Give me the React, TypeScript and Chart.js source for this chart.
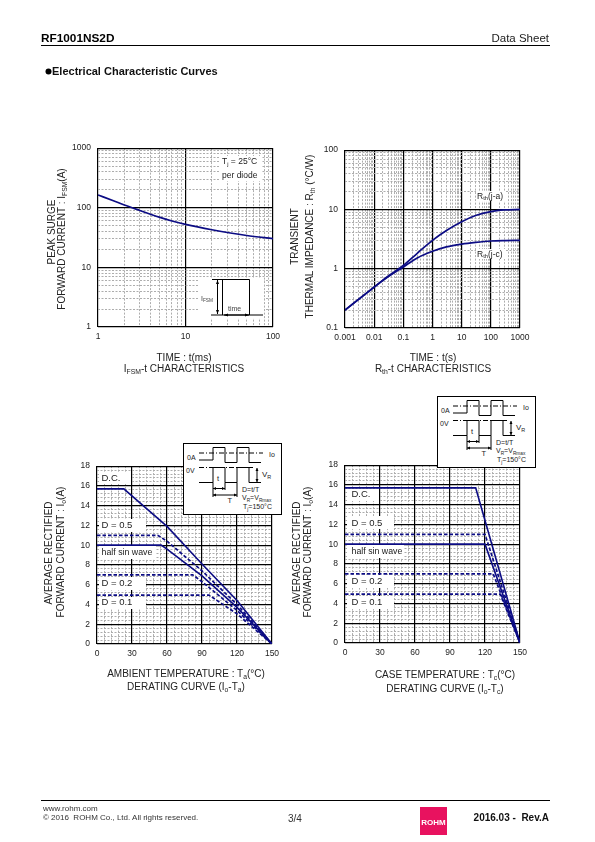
import React, { useEffect, useRef } from "react";
import { Chart, registerables } from "chart.js";

Chart.register(...registerables);

const FONT = "'Liberation Sans', Arial, sans-serif";
const NAVY = "#0c0c84";

// Chart 1: peak surge forward current vs. time
const surgeTime = [1, 1.5, 2, 3, 5, 7, 10, 20, 50, 100];
const surgeCurrent = [164, 131, 111, 90, 69.7, 60, 52.5, 42.7, 34.2, 30.4];

// Chart 2: transient thermal impedance
const rthTime = [0.001, 0.01, 0.03, 0.1, 0.3, 1, 3, 10, 30, 100, 300, 1000];
const rthJA = [0.2, 0.49, 0.75, 1.14, 1.82, 3.0, 4.4, 6.2, 7.9, 9.2, 9.8, 10];
const rthJC = [0.2, 0.49, 0.73, 1.07, 1.52, 1.97, 2.33, 2.6, 2.78, 2.93, 2.98, 3.0];

// Chart 3: derating vs. ambient temperature
const taDcX = [0, 23, 60, 90, 120, 150];
const taDcY = [15.7, 15.7, 11.9, 8.1, 4.4, 0];
const taD05X = [0, 52, 60, 90, 120, 150];
const taD05Y = [11, 11, 10.4, 7.4, 4.0, 0];
const taSinX = [0, 55, 60, 90, 120, 150];
const taSinY = [10, 10, 9.6, 6.9, 3.7, 0];
const taD02X = [0, 82, 90, 120, 150];
const taD02Y = [7, 7, 6.3, 3.4, 0];
const taD01X = [0, 96, 120, 150];
const taD01Y = [4.95, 4.95, 3.05, 0];

// Chart 4: derating vs. case temperature
const tcDcX = [0, 112, 150];
const tcDcY = [15.7, 15.7, 0];
const tcD05X = [0, 120, 150];
const tcD05Y = [11, 11, 0];
const tcSinX = [0, 120, 150];
const tcSinY = [10, 10, 0];
const tcD02X = [0, 127, 150];
const tcD02Y = [7, 7, 0];
const tcD01X = [0, 133, 150];
const tcD01Y = [4.95, 4.95, 0];

const pts = (xs: number[], ys: number[]) => xs.map((x, i) => ({ x, y: ys[i] }));

const decadeTicks = (minExp: number, maxExp: number) => {
  const out: number[] = [];
  for (let e = minExp; e < maxExp; e++)
    for (let m = 1; m < 10; m++) out.push(Number((m * Math.pow(10, e)).toPrecision(3)));
  out.push(Number(Math.pow(10, maxExp).toPrecision(3)));
  return out;
};
const isDecade = (v: number) => Math.abs(Math.log10(v) - Math.round(Math.log10(v))) < 1e-9;
const isMultiple = (step: number) => (v: number) => Math.abs(v / step - Math.round(v / step)) < 1e-6;

function gridOpts(major: (v: number) => boolean) {
  return {
    drawTicks: false,
    color: (c: any) => (major(c.tick.value) ? "#000" : "#adadad"),
    lineWidth: (c: any) => (major(c.tick.value) ? 1.2 : 1),
  };
}
function borderOpts(major: (v: number) => boolean) {
  return { display: false, dash: (c: any) => (major(c.tick.value) ? [] : [2, 1.5]) };
}
function tickOpts(major: (v: number) => boolean, padding: number) {
  return {
    autoSkip: false,
    maxRotation: 0,
    minRotation: 0,
    padding,
    color: "#222",
    font: { family: FONT, size: 8.5 },
    callback: (v: any) => (major(Number(v)) ? String(Number(v)) : ""),
  };
}
function logAxis(minExp: number, maxExp: number, horizontal: boolean) {
  const list = decadeTicks(minExp, maxExp);
  return {
    type: "logarithmic",
    min: Math.pow(10, minExp),
    max: Math.pow(10, maxExp),
    grid: gridOpts(isDecade),
    border: borderOpts(isDecade),
    ticks: tickOpts(isDecade, horizontal ? XPAD : YPAD),
    afterBuildTicks: (a: any) => {
      a.ticks = list.map((value) => ({ value }));
    },
    afterFit: fitAxis(horizontal),
  };
}
function linAxis(max: number, step: number, majorStep: number, horizontal: boolean) {
  const major = isMultiple(majorStep);
  return {
    type: "linear",
    min: 0,
    max,
    grid: gridOpts(major),
    border: borderOpts(major),
    ticks: { ...tickOpts(major, horizontal ? XPAD : YPAD), stepSize: step },
    afterFit: fitAxis(horizontal),
  };
}
const XPAD = 5;
const YPAD = 7;
const M = { left: 40, top: 10, right: 15, bottom: 22 };
const fitAxis = (horizontal: boolean) => (a: any) => {
  if (horizontal) a.height = M.bottom;
  else a.width = M.left;
};

const solid = (data: any[], width = 1.6) => ({
  data,
  borderColor: NAVY,
  borderWidth: width,
  pointRadius: 0,
  showLine: true,
  borderCapStyle: "butt",
});
const smooth = (data: any[]) => ({ ...solid(data, 1.7), cubicInterpolationMode: "monotone" });
const dashed = (data: any[]) => ({ ...solid(data, 1.7), borderDash: [3.5, 2] });

type Rect = { l: number; t: number; r: number; b: number };

function Plot({ rect, datasets, x, y }: { rect: Rect; datasets: any[]; x: any; y: any }) {
  const ref = useRef<HTMLCanvasElement>(null);
  useEffect(() => {
    const chart = new Chart(ref.current as HTMLCanvasElement, {
      type: "scatter",
      data: { datasets },
      options: {
        animation: false,
        responsive: false,
        maintainAspectRatio: false,
        devicePixelRatio: 1,
        layout: { padding: { left: 0, top: M.top, right: M.right, bottom: 0 } },
        plugins: { legend: { display: false }, tooltip: { enabled: false }, title: { display: false } },
        scales: { x, y },
      } as any,
    } as any);
    return () => chart.destroy();
  }, []);
  const w = rect.r - rect.l + M.left + M.right;
  const h = rect.b - rect.t + M.top + M.bottom;
  return (
    <canvas
      ref={ref}
      width={w}
      height={h}
      style={{ position: "absolute", left: rect.l - M.left, top: rect.t - M.top, width: w, height: h }}
    />
  );
}

// Text helper: strings are normal runs, one-item arrays are subscripts.
type Run = string | [string];
function Txt({
  x, y, runs, size = 10, anchor = "start", bold = false, rot = false, fill = "#222",
}: { x: number; y: number; runs: Run[]; size?: number; anchor?: string; bold?: boolean; rot?: boolean; fill?: string }) {
  const drop = size * 0.22;
  const nodes: any[] = [];
  let shift = 0;
  runs.forEach((r, i) => {
    if (typeof r === "string") {
      nodes.push(<tspan key={i} dy={-shift}>{r}</tspan>);
      shift = 0;
    } else {
      nodes.push(<tspan key={i} dy={drop - shift} fontSize={size * 0.68}>{r[0]}</tspan>);
      shift = drop;
    }
  });
  return (
    <text
      x={x}
      y={y}
      fontSize={size}
      fontFamily={FONT}
      fontWeight={bold ? "bold" : "normal"}
      textAnchor={anchor as any}
      fill={fill}
      transform={rot ? `rotate(-90 ${x} ${y})` : undefined}
      style={{ whiteSpace: "pre" }}
    >
      {nodes}
    </text>
  );
}

const W = ({ x, y, w, h }: { x: number; y: number; w: number; h: number }) => (
  <rect x={x} y={y} width={w} height={h} fill="#fff" />
);

function DutyInset({ dx, dy }: { dx: number; dy: number }) {
  const s = { stroke: "#000", strokeWidth: 1, fill: "none" };
  return (
    <g transform={`translate(${dx} ${dy})`}>
      <rect x={0.5} y={0.5} width={98} height={71} fill="#fff" stroke="#000" strokeWidth={1} />
      <path d="M16 10H80" {...s} strokeDasharray="5 2 1 2" />
      <path d="M16 24.5H70" {...s} strokeDasharray="5 2 1 2" />
      <path d="M16 17H30V4.5H42V19.5H54V4.5H66V19.5H78" {...s} />
      <path d="M16 39.5H30V24.5H42V39.5H54V24.5H66V39.5H78" {...s} />
      <path d="M30 39.5V54M42 39.5V47M54 39.5V54" {...s} />
      <path d="M30 45.5H42M30 52H54M74 25V39" {...s} />
      <path d="M30 45.5l3 -1.5v3zM42 45.5l-3 -1.5v3zM30 52l3 -1.5v3zM54 52l-3 -1.5v3zM74 25l-1.5 3h3zM74 39l-1.5 -3h3z" fill="#000" />
      <Txt x={4} y={17.3} size={7} runs={["0A"]} />
      <Txt x={3} y={30} size={7} runs={["0V"]} />
      <Txt x={86} y={13.7} size={7} runs={["Io"]} />
      <Txt x={79} y={34} size={8} runs={["V", ["R"]]} />
      <Txt x={34} y={38} size={7.5} runs={["t"]} />
      <Txt x={44.5} y={60} size={7.5} runs={["T"]} />
      <Txt x={59} y={48.7} size={7} runs={["D=t/T"]} />
      <Txt x={59} y={57} size={7} runs={["V", ["R"], "=V", ["Rmax"]]} />
      <Txt x={60} y={66} size={7} runs={["T", ["j"], "=150°C"]} />
    </g>
  );
}

function Overlay() {
  const s = { stroke: "#000", strokeWidth: 1, fill: "none" };
  return (
    <svg
      width={595}
      height={842}
      style={{ position: "absolute", left: 0, top: 0, pointerEvents: "none" }}
    >
      {/* page header */}
      <Txt x={41} y={42} size={11.8} bold fill="#000" runs={["RF1001NS2D"]} />
      <Txt x={549} y={42} size={11.5} anchor="end" runs={["Data Sheet"]} />
      <path d="M41 45.5H550" stroke="#000" strokeWidth={1} />
      <circle cx={48.5} cy={71.5} r={3} fill="#000" />
      <Txt x={52} y={75} size={11} bold fill="#111" runs={["Electrical Characteristic Curves"]} />

      {/* chart 1 */}
      <W x={220} y={156} w={42} h={25} />
      <Txt x={222} y={164} size={8.5} runs={["T", ["j"], " = 25°C"]} />
      <Txt x={222} y={178} size={8.5} runs={["per diode"]} />
      <W x={199} y={278} w={65} h={40} />
      <path d="M212 279.5H249.5V315M222.5 279.5V315M211 315H263" {...s} />
      <path d="M217.5 280V314" {...s} />
      <path d="M217.5 280l-1.5 4h3zM217.5 314l-1.5 -4h3zM224 315l4 -1.5v3zM249 315l-4 -1.5v3z" fill="#000" />
      <path d="M224 315H249" {...s} />
      <Txt x={201} y={300.5} size={7} fill="#444" runs={["I", ["FSM"]]} />
      <Txt x={228} y={311} size={7} fill="#444" runs={["time"]} />
      <Txt x={54.5} y={232} size={10} anchor="middle" rot runs={["PEAK SURGE"]} />
      <Txt x={65} y={239} size={10} anchor="middle" rot runs={["FORWARD CURRENT : I", ["FSM"], "(A)"]} />
      <Txt x={184} y={361} size={10} anchor="middle" runs={["TIME : t(ms)"]} />
      <Txt x={184} y={371.5} size={10} anchor="middle" runs={["I", ["FSM"], "-t CHARACTERISTICS"]} />

      {/* chart 2 */}
      <W x={476} y={191} w={30} h={10} />
      <W x={476} y={249} w={30} h={10} />
      <Txt x={477} y={198.5} size={8.5} runs={["R", ["th"], "(j-a)"]} />
      <Txt x={477} y={256.5} size={8.5} runs={["R", ["th"], "(j-c)"]} />
      <Txt x={298} y={236.5} size={10} anchor="middle" rot runs={["TRANSIENT"]} />
      <Txt x={313} y={236.5} size={10} anchor="middle" rot runs={["THERMAL IMPEDANCE : R", ["th"], " (°C/W)"]} />
      <Txt x={433} y={361} size={10} anchor="middle" runs={["TIME : t(s)"]} />
      <Txt x={433} y={372} size={10} anchor="middle" runs={["R", ["th"], "-t CHARACTERISTICS"]} />

      {/* chart 3 */}
      <W x={99} y={472} w={32} h={12} />
      <W x={99} y={519} w={47} h={13} />
      <W x={99} y={546} w={57} h={13} />
      <W x={99} y={577} w={47} h={13} />
      <W x={99} y={597} w={47} h={12} />
      <Txt x={101.5} y={480.5} size={9.5} runs={["D.C."]} />
      <Txt x={101.5} y={527.5} size={9.5} runs={["D = 0.5"]} />
      <Txt x={101.5} y={554.5} size={8.8} runs={["half sin wave"]} />
      <Txt x={101.5} y={585.5} size={9.5} runs={["D = 0.2"]} />
      <Txt x={101.5} y={605} size={9.5} runs={["D = 0.1"]} />
      <DutyInset dx={183} dy={443} />
      <Txt x={52} y={553} size={10} anchor="middle" rot runs={["AVERAGE RECTIFIED"]} />
      <Txt x={64} y={552} size={10} anchor="middle" rot runs={["FORWARD CURRENT : I", ["o"], "(A)"]} />
      <Txt x={186} y={677} size={10} anchor="middle" runs={["AMBIENT TEMPERATURE : T", ["a"], "(°C)"]} />
      <Txt x={186} y={690} size={10} anchor="middle" runs={["DERATING CURVE (I", ["o"], "-T", ["a"], ")"]} />

      {/* chart 4 */}
      <W x={347} y={489} w={32} h={12} />
      <W x={347} y={516} w={47} h={13} />
      <W x={347} y={545} w={57} h={13} />
      <W x={347} y={575} w={47} h={13} />
      <W x={347} y={596} w={47} h={13} />
      <Txt x={351.5} y={497} size={9.5} runs={["D.C."]} />
      <Txt x={351.5} y={525.5} size={9.5} runs={["D = 0.5"]} />
      <Txt x={351.5} y={553.5} size={8.8} runs={["half sin wave"]} />
      <Txt x={351.5} y={583.5} size={9.5} runs={["D = 0.2"]} />
      <Txt x={351.5} y={604.5} size={9.5} runs={["D = 0.1"]} />
      <DutyInset dx={437} dy={396} />
      <Txt x={300} y={553} size={10} anchor="middle" rot runs={["AVERAGE RECTIFIED"]} />
      <Txt x={311} y={552} size={10} anchor="middle" rot runs={["FORWARD CURRENT : I", ["o"], "(A)"]} />
      <Txt x={445} y={677.5} size={10} anchor="middle" runs={["CASE TEMPERATURE : T", ["c"], "(°C)"]} />
      <Txt x={445} y={691.5} size={10} anchor="middle" runs={["DERATING CURVE (I", ["o"], "-T", ["c"], ")"]} />

      {/* page footer */}
      <path d="M41 800.5H550" stroke="#000" strokeWidth={1} />
      <Txt x={43} y={811} size={8} fill="#333" runs={["www.rohm.com"]} />
      <Txt x={43} y={820} size={8} fill="#333" runs={["© 2016  ROHM Co., Ltd. All rights reserved."]} />
      <Txt x={288} y={822} size={10} fill="#333" runs={["3/4"]} />
      <rect x={420} y={807} width={27} height={28} fill="#e8125f" />
      <Txt x={433.5} y={824.5} size={8} bold anchor="middle" fill="#fff" runs={["ROHM"]} />
      <Txt x={549} y={821} size={10} bold anchor="end" fill="#111" runs={["2016.03 -  Rev.A"]} />
    </svg>
  );
}

export default function App() {
  return (
    <div style={{ position: "absolute", left: 0, top: 0, width: 595, height: 842, background: "#fff", overflow: "hidden" }}>
      <Plot
        rect={{ l: 98, t: 146, r: 273, b: 327 }}
        datasets={[smooth(pts(surgeTime, surgeCurrent))]}
        x={logAxis(0, 2, true)}
        y={logAxis(0, 3, false)}
      />
      <Plot
        rect={{ l: 345, t: 148, r: 520, b: 328 }}
        datasets={[smooth(pts(rthTime, rthJA)), smooth(pts(rthTime, rthJC))]}
        x={logAxis(-3, 3, true)}
        y={logAxis(-1, 2, false)}
      />
      <Plot
        rect={{ l: 97, t: 464, r: 272, b: 644 }}
        datasets={[
          solid(pts(taDcX, taDcY)),
          dashed(pts(taD05X, taD05Y)),
          solid(pts(taSinX, taSinY)),
          dashed(pts(taD02X, taD02Y)),
          dashed(pts(taD01X, taD01Y)),
        ]}
        x={linAxis(150, 6, 30, true)}
        y={linAxis(18, 0.4, 2, false)}
      />
      <Plot
        rect={{ l: 345, t: 463, r: 520, b: 643 }}
        datasets={[
          solid(pts(tcDcX, tcDcY)),
          dashed(pts(tcD05X, tcD05Y)),
          solid(pts(tcSinX, tcSinY)),
          dashed(pts(tcD02X, tcD02Y)),
          dashed(pts(tcD01X, tcD01Y)),
        ]}
        x={linAxis(150, 6, 30, true)}
        y={linAxis(18, 0.4, 2, false)}
      />
      <Overlay />
    </div>
  );
}
